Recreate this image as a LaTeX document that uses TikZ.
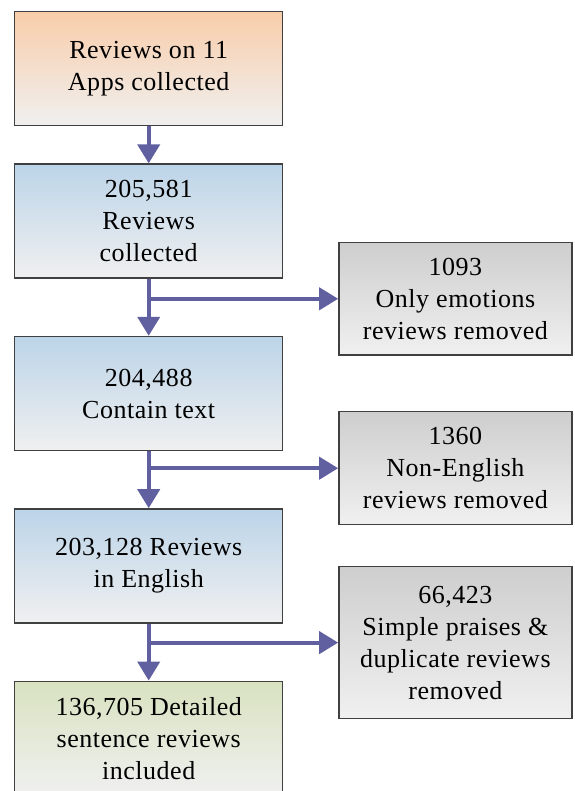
\documentclass[tikz,border=0pt]{standalone}
\usepackage{fontspec}
\setmainfont{Liberation Serif}[LetterSpace=2]
\usetikzlibrary{arrows.meta, positioning}

\definecolor{flowblue}{RGB}{96,96,160}
\definecolor{startpeach}{RGB}{248,205,170}
\definecolor{stageblue}{RGB}{188,212,232}
\definecolor{finalgreen}{RGB}{216,226,192}
\definecolor{removedgray}{RGB}{206,206,206}
\definecolor{boxbottom}{RGB}{240,240,240}
\definecolor{boxline}{RGB}{64,64,64}

\begin{document}
\begin{tikzpicture}[
  node distance=57pt,
  stage/.style={rectangle, draw=boxline, line width=1.4pt,
                minimum width=268pt, minimum height=114pt, align=center,
                font=\fontsize{26}{32}\selectfont,
                top color=stageblue, bottom color=boxbottom},
  start/.style={stage, top color=startpeach, bottom color=boxbottom},
  final/.style={stage, top color=finalgreen, bottom color=boxbottom},
  removed/.style={stage, minimum width=233pt,
                  top color=removedgray, bottom color=boxbottom},
  flow/.style={draw=flowblue, line width=4pt,
               -{Triangle[width=22pt, length=19pt]}}
]
  \useasboundingbox (0,0) rectangle (574pt,-791pt);

  \node[start, anchor=north west] (apps) at (14pt,-11pt) {Reviews on 11\\Apps collected};
  \node[stage, below=37pt of apps] (collected) {205,581\\Reviews\\collected};
  \node[stage, below=of collected] (withtext) {204,488\\Contain text};
  \node[stage, below=of withtext] (english) {203,128 Reviews\\in English};
  \node[final, below=of english] (detailed) {136,705 Detailed\\sentence reviews\\included};

  % Split points on the main line
  \coordinate[below=20pt of collected] (split1);
  \coordinate[below=17pt of withtext] (split2);
  \coordinate[below=19pt of english] (split3);

  % Removed reviews
  \node[removed, minimum height=112pt, right=189.5pt of split1] (emotions)
    {1093\\Only emotions\\reviews removed};
  \node[removed, minimum height=113pt, right=189.5pt of split2] (nonenglish)
    {1360\\Non-English\\reviews removed};
  \node[removed, minimum height=152pt, right=189.5pt of split3] (praises)
    {66,423\\Simple praises \&\\duplicate reviews\\removed};

  \draw[flow] (apps) -- (collected);
  \draw[flow] (collected) -- (withtext);
  \draw[flow] (withtext) -- (english);
  \draw[flow] (english) -- (detailed);

  \draw[flow] (split1) -- (emotions);
  \draw[flow] (split2) -- (nonenglish);
  \draw[flow] (split3) -- (praises);
\end{tikzpicture}
\end{document}
